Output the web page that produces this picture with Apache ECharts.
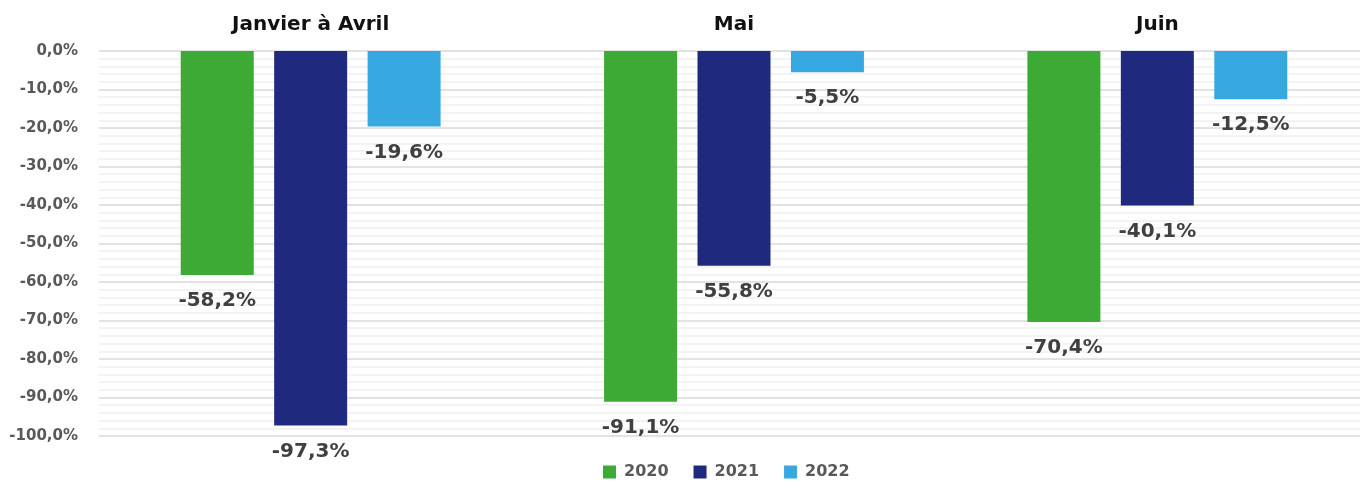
<!DOCTYPE html>
<html>
<head>
<meta charset="utf-8">
<script src="https://cdn.jsdelivr.net/npm/echarts@6/dist/echarts.min.js"></script>
<style>
  html, body { margin: 0; padding: 0; background: #fff; }
  #chart { width: 1360px; height: 482px; }
</style>
</head>
<body>
<div id="chart"></div>
<script>
const periods = ['Janvier à Avril', 'Mai', 'Juin']
const years = ['2020', '2021', '2022']
const values2020 = [-58.2, -91.1, -70.4]
const values2021 = [-97.3, -55.8, -40.1]
const values2022 = [-19.6, -5.5, -12.5]
const colors = ['#3DAA35', '#1F2A7E', '#38A9E0']

const fmt = (v) => v.toFixed(1).replace('.', ',') + '%'
const font = '"DejaVu Sans", Verdana, sans-serif'

const myChart = echarts.init(document.getElementById('chart'))

function makeSeries(name, data, color) {
  return {
    name: name,
    type: 'bar',
    data: data,
    barWidth: 73,
    barGap: '28%',
    itemStyle: { color: color },
    label: {
      show: true,
      position: 'bottom',
      distance: 16,
      formatter: (p) => fmt(p.value),
      color: '#404040',
      fontWeight: 'bold',
      fontSize: 20,
      fontFamily: font,
    },
  }
}

myChart.setOption({
  animation: false,
  color: colors,
  grid: {
    left: 99,
    top: 51,
    width: 1270,
    height: 385,
    outerBoundsMode: 'none',
  },
  legend: {
    bottom: 2,
    left: 603,
    padding: 0,
    itemWidth: 13,
    itemHeight: 13,
    itemGap: 25,
    icon: 'rect',
    textStyle: {
      color: '#595959',
      fontWeight: 'bold',
      fontSize: 16,
      padding: [0, 0, 0, 3],
      fontFamily: font,
    },
    data: years,
  },
  xAxis: {
    type: 'category',
    position: 'top',
    data: periods,
    axisLine: { show: false },
    axisTick: { show: false },
    axisLabel: {
      color: '#111',
      fontWeight: 'bold',
      fontSize: 20,
      margin: 16,
      fontFamily: font,
    },
  },
  yAxis: {
    type: 'value',
    min: -100,
    max: 0,
    interval: 10,
    axisLine: { show: false },
    axisTick: { show: false },
    axisLabel: {
      formatter: (v) => fmt(v),
      color: '#595959',
      fontWeight: 'bold',
      fontSize: 15,
      margin: 21,
      fontFamily: font,
    },
    splitLine: { lineStyle: { color: '#d9d9d9', width: 1.5 } },
    minorTick: { show: false, splitNumber: 5 },
    minorSplitLine: { show: true, lineStyle: { color: '#f0f0f0', width: 1.5 } },
  },
  series: [
    makeSeries(years[0], values2020, colors[0]),
    makeSeries(years[1], values2021, colors[1]),
    makeSeries(years[2], values2022, colors[2]),
  ],
})
</script>
</body>
</html>
